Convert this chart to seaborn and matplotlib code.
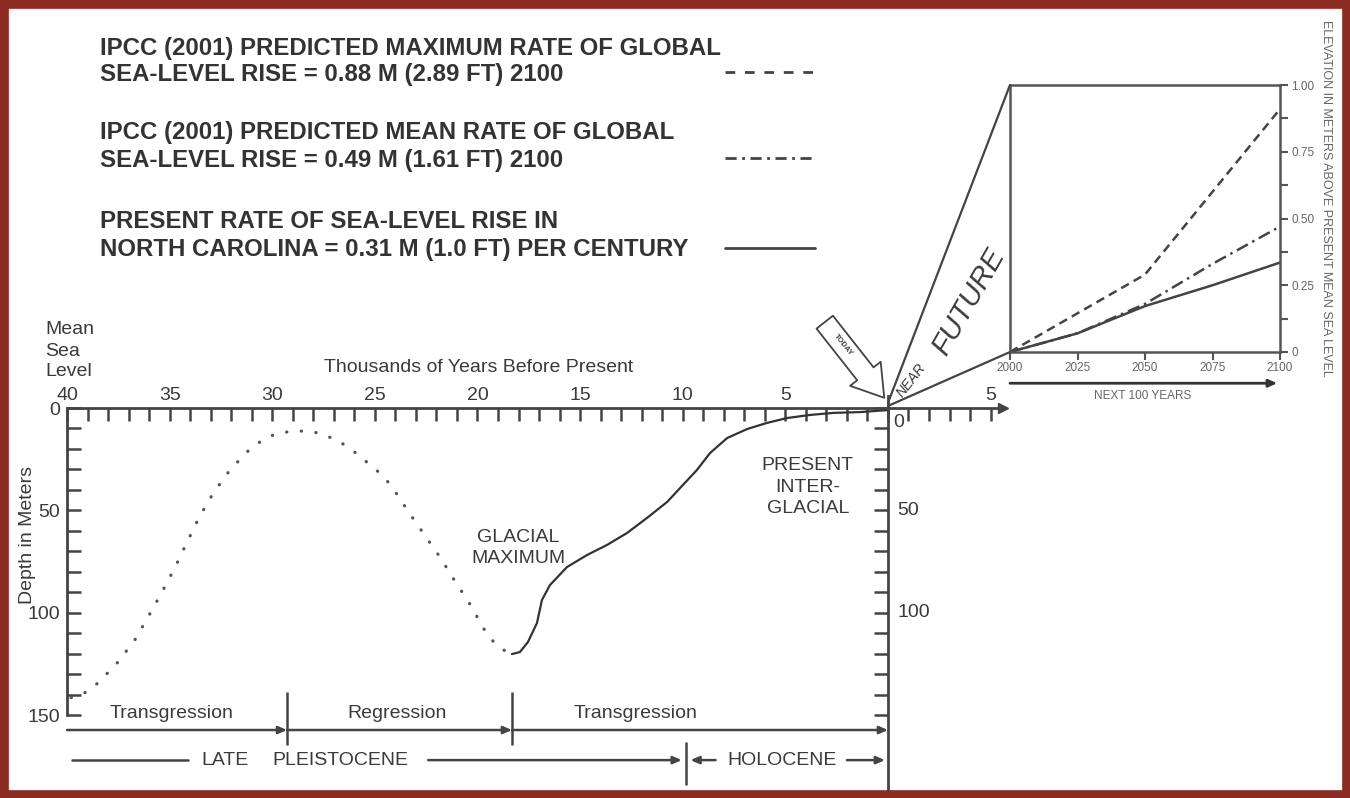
import numpy as np
import pandas as pd
import matplotlib
matplotlib.use("Agg")
import matplotlib.pyplot as plt
import seaborn as sns
from matplotlib.patches import Rectangle, ConnectionPatch, FancyArrowPatch
from matplotlib.lines import Line2D

# 末次冰期前的推测海平面 (千年前, 深度 m)
recon_ky = [39.8, 39.07, 38.5, 37.56, 36.7, 36.05, 35.37, 34.73, 34.15, 33.55, 32.87,
            32.06, 31.13, 30.6, 29.96, 29.28, 28.7, 27.97, 27.33, 26.7, 26.11, 25.58,
            25.04, 24.56, 24.12, 23.39, 22.61, 21.83, 21.1, 20.37, 19.68, 19.29, 18.81, 18.32]
recon_depth = [141.5, 138.8, 134.4, 124.6, 113.4, 102.1, 89.9, 77.7, 65.5, 53.2, 41.5,
               30.3, 20.5, 16.6, 13.2, 11.7, 11.2, 11.7, 13.7, 16.6, 20.5, 24.9,
               29.3, 33.7, 39.1, 50.3, 61.6, 72.8, 84.5, 95.8, 108.0, 113.4, 117.8, 120.2]

# 末次冰盛期以后的海平面
obs_ky = [18.32, 17.93, 17.54, 17.1, 16.86, 16.47, 15.64, 14.66, 13.69, 12.72, 11.74,
          10.76, 9.99, 9.31, 8.67, 7.84, 6.87, 5.9, 4.92, 3.8, 2.68, 1.36, 0.0]
obs_depth = [120.2, 119.2, 114.3, 105.0, 93.8, 86.5, 77.7, 71.8, 66.9, 61.1, 53.7,
             45.9, 37.6, 30.3, 22.0, 14.7, 10.3, 7.3, 4.9, 3.4, 2.4, 2.0, 1.0]

# 未来100年
years = [2000, 2025, 2050, 2075, 2100]
rise_max = [0.0, 0.145, 0.29, 0.60, 0.91]
rise_mean = [0.0, 0.07, 0.18, 0.33, 0.47]
rise_nc = [0.0, 0.07, 0.172, 0.25, 0.335]

xtick_vals = [40, 35, 30, 25, 20, 15, 10, 5, -5]
xtick_text = ['40', '35', '30', '25', '20', '15', '10', '5', '5']
ytick_vals = [0, 50, 100, 150]
inset_yticks = [0, 0.25, 0.5, 0.75, 1.0]
inset_ytext = ['0', '0.25', '0.50', '0.75', '1.00']

legend_lines = [
    ("IPCC (2001) PREDICTED MAXIMUM RATE OF GLOBAL", "SEA-LEVEL RISE = 0.88 M (2.89 FT) 2100"),
    ("IPCC (2001) PREDICTED MEAN RATE OF GLOBAL", "SEA-LEVEL RISE = 0.49 M (1.61 FT) 2100"),
    ("PRESENT RATE OF SEA-LEVEL RISE IN", "NORTH CAROLINA = 0.31 M (1.0 FT) PER CENTURY"),
]

sns.set_style("white")
plt.rcParams['font.family'] = ['Liberation Sans', 'DejaVu Sans']

W, H = 1350, 798
TXT = '#3a3a3a'
LN = '#444444'


def fx(x):
    return x / W


def fy(y):
    return 1 - y / H


fig = plt.figure(figsize=(13.5, 7.98), dpi=100)
fig.patch.set_facecolor('white')

# 主图
top_px = 408 - 6 * 2.0467
ax = fig.add_axes([fx(67), fy(790), 940 / W, (790 - top_px) / H])
ax.set_facecolor('none')

sns.lineplot(x=recon_ky, y=recon_depth, ax=ax, color='#555555', lw=2.3,
             linestyle=(0, (0.1, 4.5)), dash_capstyle='round', sort=False, estimator=None)
sns.lineplot(x=obs_ky, y=obs_depth, ax=ax, color='#333333', lw=1.6,
             sort=False, estimator=None)

ax.set_xlim(40, -5.8)
ax.set_ylim(186.6, -6)
ax.set_xlabel('')
ax.set_ylabel('')

ax.spines['bottom'].set_visible(False)
ax.spines['top'].set_position(('data', 0))
ax.spines['top'].set_bounds(-5.5, 40)
ax.spines['left'].set_bounds(0, 150)
ax.spines['right'].set_position(('data', 0))
ax.spines['right'].set_bounds(-6, 186.6)
for s in ['top', 'left', 'right']:
    ax.spines[s].set_color(LN)
    ax.spines[s].set_linewidth(2)

ax.xaxis.set_ticks_position('top')
ax.set_xticks(xtick_vals)
ax.set_xticklabels(xtick_text)
ax.set_xticks(np.arange(-5, 41), minor=True)
ax.tick_params(axis='x', which='both', direction='in', length=9.5, width=1.8,
               color=LN, labelcolor=TXT, labelsize=14, pad=3, top=True, bottom=False)
ax.set_yticks(ytick_vals)
ax.set_yticks(np.arange(0, 151, 10), minor=True)
ax.tick_params(axis='y', which='both', direction='in', length=10, width=1.8,
               color=LN, labelcolor=TXT, labelsize=14, pad=5,
               left=True, right=True, labelleft=True, labelright=False)
ax.plot([-5.6], [0], marker='>', ms=7, color=LN, clip_on=False)

# 右侧刻度标签
ax.text(-0.25, 7, '0', fontsize=14, color=TXT, ha='left', va='center')
ax.text(-0.45, 50, '50', fontsize=14, color=TXT, ha='left', va='center')
ax.text(-0.45, 100, '100', fontsize=14, color=TXT, ha='left', va='center')

# 曲线注释
ax.text(18.0, 68.2, 'GLACIAL\nMAXIMUM', fontsize=14, color=TXT, ha='center', va='center',
        linespacing=1.3)
ax.text(3.9, 38.6, 'PRESENT\nINTER-\nGLACIAL', fontsize=14, color=TXT, ha='center',
        va='center', linespacing=1.35)

# 海侵/海退
ax.text(34.9, 149, 'Transgression', fontsize=14, color=TXT, ha='center', va='center')
ax.text(23.9, 149, 'Regression', fontsize=14, color=TXT, ha='center', va='center')
ax.text(12.3, 149, 'Transgression', fontsize=14, color=TXT, ha='center', va='center')
arr = dict(arrowstyle='-|>,head_length=0.5,head_width=0.22', lw=1.8, color=LN,
           shrinkA=0, shrinkB=0)
for a, b in [(40, 29.28), (29.28, 18.32), (18.32, 0)]:
    ax.annotate('', xy=(b, 157.3), xytext=(a, 157.3), arrowprops=arr, annotation_clip=False)
ax.vlines([29.28, 18.32], 138.8, 164.7, color=LN, lw=1.8)

# 地质年代
ax.plot([39.75, 34.1], [172, 172], color=LN, lw=1.8)
ax.text(32.3, 172, 'LATE', fontsize=14, color=TXT, ha='center', va='center')
ax.text(26.7, 172, 'PLEISTOCENE', fontsize=14, color=TXT, ha='center', va='center')
ax.annotate('', xy=(10.05, 172), xytext=(22.4, 172), arrowprops=arr, annotation_clip=False)
ax.vlines([9.84], 163, 184, color=LN, lw=1.8)
ax.annotate('', xy=(9.62, 172), xytext=(8.4, 172), arrowprops=arr, annotation_clip=False)
ax.text(5.16, 172, 'HOLOCENE', fontsize=14, color=TXT, ha='center', va='center')
ax.annotate('', xy=(0.15, 172), xytext=(2.0, 172), arrowprops=arr, annotation_clip=False)

# 轴标题
fig.text(fx(479), fy(368), 'Thousands of Years Before Present', fontsize=14, color=TXT,
         ha='center', va='center')
for txt, yy in [('Mean', 330), ('Sea', 351), ('Level', 372)]:
    fig.text(fx(45), fy(yy), txt, fontsize=14, color=TXT, ha='left', va='center')
fig.text(fx(28), fy(535), 'Depth in Meters', fontsize=14, color=TXT, rotation=90,
         ha='center', va='center')

# 放大图
ax_in = fig.add_axes([fx(1010), fy(352), 270 / W, 267 / H])
ax_in.set_facecolor('white')
df_in = pd.DataFrame({
    'year': years * 3,
    'rise': rise_max + rise_mean + rise_nc,
    'scenario': ['max'] * 5 + ['mean'] * 5 + ['nc'] * 5,
})
sns.lineplot(data=df_in, x='year', y='rise', style='scenario', ax=ax_in, color='#444444',
             lw=1.8, dashes={'max': (3.5, 2.2), 'mean': (5, 2, 1, 2), 'nc': ''},
             legend=False, sort=False, estimator=None)
ax_in.set_xlim(2000, 2100)
ax_in.set_ylim(0, 1)
ax_in.set_xlabel('')
ax_in.set_ylabel('')
for s in ax_in.spines.values():
    s.set_visible(True)
    s.set_color('#555555')
    s.set_linewidth(1.8)
ax_in.set_xticks(years)
ax_in.set_xticklabels([str(y) for y in years])
ax_in.tick_params(axis='x', direction='out', length=6, width=1.5, color='#555555',
                  labelcolor='#666666', labelsize=8.5, pad=1, bottom=True)
ax_in.yaxis.tick_right()
ax_in.set_yticks(inset_yticks)
ax_in.set_yticklabels(inset_ytext)
ax_in.set_yticks(np.arange(0.125, 1, 0.25), minor=True)
ax_in.tick_params(axis='y', which='both', direction='out', length=6, width=1.5,
                  color='#555555', labelcolor='#666666', labelsize=8.5, pad=2,
                  right=True, left=False)
ax_in.annotate('', xy=(2099, -0.117), xytext=(2000, -0.117),
               arrowprops=dict(arrowstyle='-|>,head_length=0.5,head_width=0.22', lw=2,
                               color='#333333', shrinkA=0, shrinkB=0),
               annotation_clip=False)
ax_in.text(2049, -0.165, 'NEXT 100 YEARS', fontsize=8.5, color='#666666', ha='center',
           va='center')
fig.text(fx(1326), fy(198), 'ELEVATION IN METERS ABOVE PRESENT MEAN SEA LEVEL',
         fontsize=9, color='#666666', rotation=270, ha='center', va='center')

# 连接线
for yb in [1, 0]:
    con = ConnectionPatch(xyA=(0, -2.5 if yb else -1), coordsA=ax.transData,
                          xyB=(2000, yb), coordsB=ax_in.transData,
                          color=LN, lw=1.6)
    fig.add_artist(con)

# TODAY 箭头
tod = FancyArrowPatch(posA=(fx(823), fy(320)), posB=(fx(886), fy(400)),
                      transform=fig.transFigure,
                      arrowstyle='simple,head_length=1.1,head_width=1.4,tail_width=0.75',
                      mutation_scale=20, fc='white', ec=LN, lw=1.3)
fig.add_artist(tod)
fig.text(fx(843), fy(345), 'TODAY', fontsize=5.5, color=TXT, rotation=-51,
         ha='center', va='center', fontweight='bold')
fig.text(fx(911), fy(380), 'NEAR', fontsize=10, color=TXT, rotation=52,
         ha='center', va='center', fontstyle='italic')
fig.text(fx(969), fy(302), 'FUTURE', fontsize=21, color=TXT, rotation=60,
         ha='center', va='center', fontstyle='italic')

# 图例
leg_y = [(48, 74), (133, 160), (222, 250)]
sample_styles = [(0, (3.5, 3.5)), (0, (4, 2, 1, 2)), '-']
samp_y = [72, 158, 248]
for (l1, l2), (y1, y2), st, sy in zip(legend_lines, leg_y, sample_styles, samp_y):
    fig.text(fx(100), fy(y1), l1, fontsize=17.3, fontweight='bold', color='#333333',
             ha='left', va='center')
    fig.text(fx(100), fy(y2), l2, fontsize=17.3, fontweight='bold', color='#333333',
             ha='left', va='center')
    fig.add_artist(Line2D([fx(725), fx(815)], [fy(sy), fy(sy)], transform=fig.transFigure,
                          color='#444444', lw=2, linestyle=st))

# 边框
fig.add_artist(Rectangle((0, 0), 1, 1, transform=fig.transFigure, fill=False,
                         edgecolor='#8b2b22', lw=12))

fig.savefig('out.png', dpi=100)
